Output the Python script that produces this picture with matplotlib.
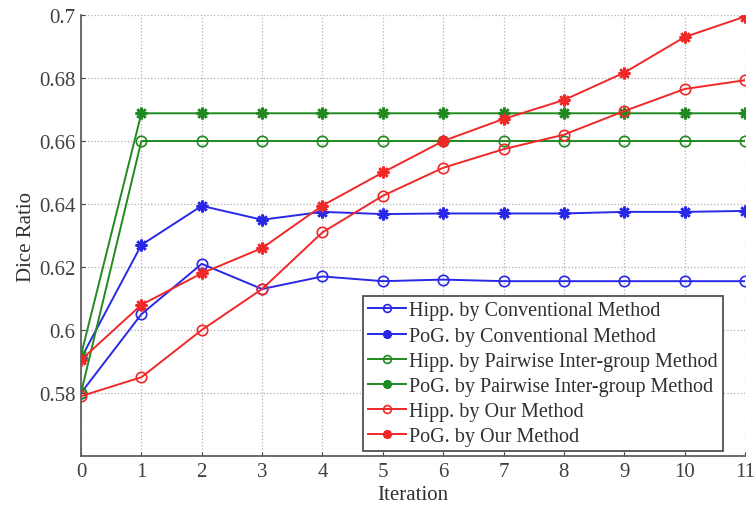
import matplotlib
matplotlib.use("Agg")
import matplotlib.pyplot as plt
from matplotlib.ticker import FuncFormatter

plt.rcParams['font.family'] = ['Liberation Serif', 'DejaVu Serif']

iterations = list(range(12))
hipp_conv = [0.580, 0.605, 0.621, 0.613, 0.617, 0.6155, 0.616, 0.6155, 0.6155, 0.6155, 0.6155, 0.6155]
pog_conv = [0.591, 0.627, 0.6394, 0.635, 0.6375, 0.6368, 0.637, 0.637, 0.637, 0.6375, 0.6375, 0.6378]
hipp_pair = [0.580, 0.660, 0.660, 0.660, 0.660, 0.660, 0.660, 0.660, 0.660, 0.660, 0.660, 0.660]
pog_pair = [0.592, 0.6688, 0.6688, 0.6688, 0.6688, 0.6688, 0.6688, 0.6688, 0.6688, 0.6688, 0.6688, 0.6688]
hipp_our = [0.579, 0.585, 0.600, 0.613, 0.631, 0.6426, 0.6515, 0.6574, 0.662, 0.6695, 0.6765, 0.6793]
pog_our = [0.5905, 0.608, 0.618, 0.626, 0.6395, 0.650, 0.660, 0.667, 0.673, 0.6817, 0.693, 0.6995]

labels = ["Hipp. by Conventional Method", "PoG. by Conventional Method",
          "Hipp. by Pairwise Inter-group Method", "PoG. by Pairwise Inter-group Method",
          "Hipp. by Our Method", "PoG. by Our Method"]
yticks = [0.58, 0.60, 0.62, 0.64, 0.66, 0.68, 0.70]

fig = plt.figure(figsize=(7.56, 5.10), dpi=100)
ax = fig.add_axes([81/756, 1 - 457/510, 664/756, 441/510])

blue = '#2828e6'
green = '#208a20'
red = '#f02828'
series = [(hipp_conv, blue, 'o'), (pog_conv, blue, '*'),
          (hipp_pair, green, 'o'), (pog_pair, green, '*'),
          (hipp_our, red, 'o'), (pog_our, red, '*')]
for (vals, c, m), lab in zip(series, labels):
    if m == 'o':
        ax.plot(iterations, vals, color=c, marker='o', markersize=7.5, markerfacecolor='none',
                markeredgecolor=c, markeredgewidth=1.2, linewidth=1.4, label=lab)
    else:
        ax.plot(iterations, vals, color=c, marker=(8, 2, 0), markersize=8.5,
                markeredgecolor=c, markeredgewidth=1.8, linewidth=1.4, label=lab)

ax.set_xlim(0, 11)
ax.set_ylim(0.56, 0.70)
ax.set_xticks(iterations)
ax.set_yticks(yticks)
ax.yaxis.set_major_formatter(FuncFormatter(lambda v, p: '%g' % round(v, 2)))
ax.grid(True, linestyle=':', color='#b0b0b0', linewidth=0.9)
ax.spines['top'].set_visible(False)
ax.spines['right'].set_visible(False)
for s in ('left', 'bottom'):
    ax.spines[s].set_color('#606060')
    ax.spines[s].set_linewidth(1.3)
ax.tick_params(direction='in', labelsize=15, colors='#404040', length=3, pad=4)
ax.set_xlabel('Iteration', fontsize=15, color='#303030', labelpad=3)
ax.set_ylabel('Dice Ratio', fontsize=15, color='#303030', labelpad=2)

leg = ax.legend(loc='lower right', bbox_to_anchor=(0.967, 0.011), fontsize=14.5,
                frameon=True, fancybox=False, edgecolor='#505050', framealpha=1,
                handlelength=1.9, handletextpad=0.15, borderpad=0.25, labelspacing=0.3,
                borderaxespad=0, markerscale=0.75)
leg.get_frame().set_linewidth(1.3)
for t in leg.get_texts():
    t.set_color('#303030')

fig.savefig('out.png', dpi=100)
